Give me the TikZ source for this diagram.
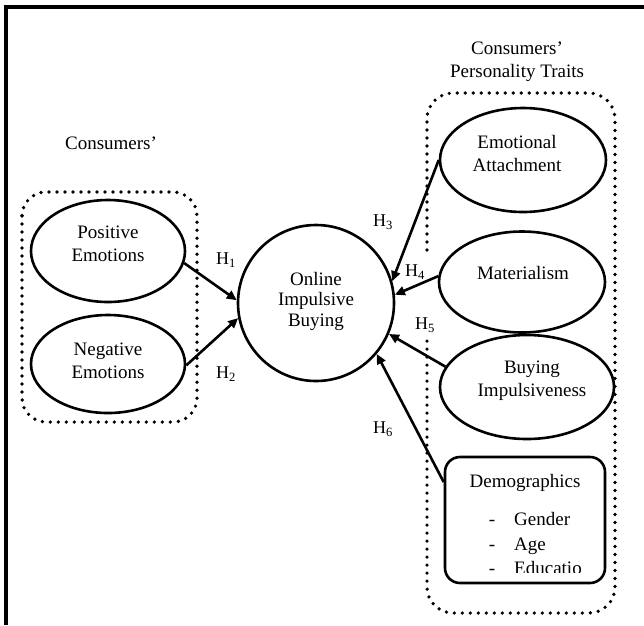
\documentclass[tikz,border=0pt]{standalone}
\usepackage{fontspec}
\setmainfont{Liberation Serif}
\usetikzlibrary{shapes.geometric,arrows.meta}
\begin{document}
\begin{tikzpicture}[x=1pt,y=-1pt,
  ell/.style={draw, line width=2.6pt, ellipse, inner sep=0pt},
  txt/.style={align=center, font=\fontsize{19}{23}\selectfont, inner sep=0pt},
  hyp/.style={font=\fontsize{18}{20}\selectfont, inner sep=1pt},
  dtxt/.style={inner sep=0pt, font=\fontsize{19}{20}\selectfont},
  dotbox/.style={line width=3.7pt, dash pattern=on 0pt off 8pt, line cap=round},
  arr/.style={line width=2.6pt, -{Triangle[length=10pt,width=9pt]}},
  frame/.style={line width=3.8pt}]
\useasboundingbox (0,0) rectangle (644,625);
\draw[frame] (6,625) -- (6,7) -- (644,7);

% left group
\node[txt] (lt) at (111,143) {Consumers’};
\node[ell, minimum width=154pt, minimum height=102pt] (pos) at (108,251) {};
\node[txt] (posT) at (108,244) {Positive\\Emotions};
\node[ell, minimum width=154pt, minimum height=98pt] (neg) at (108,364) {};
\node[txt] (negT) at (108,361) {Negative\\Emotions};
\draw[dotbox, rounded corners=24pt] (22,192) rectangle (197,422);

% centre
\node[circle, draw, line width=2.6pt, minimum size=156pt, inner sep=0pt] (oib) at (316,303) {};
\node[txt, font=\fontsize{19}{20.5}\selectfont] (oibT) at (316,301) {Online\\Impulsive\\Buying};

% right group
\node[txt] (rt) at (517,62) {Consumers’\\Personality Traits};
\draw[dotbox, rounded corners=26pt] (427,250) -- (427,93) -- (615,93) -- (615,613) -- (427,613) -- (427,337);
\node[ell, minimum width=166pt, minimum height=104pt] (ea) at (523,160) {};
\node[txt] (eaT) at (517,153) {Emotional\\Attachment};
\node[ell, minimum width=166pt, minimum height=101pt] (mat) at (522,282) {};
\node[txt] (matT) at (523,273) {Materialism};
\node[ell, minimum width=174pt, minimum height=104pt] (bi) at (527,387) {};
\node[txt] (biT) at (532,381) {Buying\\Impulsiveness};

\node[draw, line width=2.6pt, rounded corners=15pt, minimum width=160pt, minimum height=126pt, inner sep=0pt] (demo) at (525,520) {};
\node[dtxt, anchor=base] (demoT) at (525,487) {Demographics};
\begin{scope}
\clip (446,458) rectangle (604,572);
\node[dtxt, anchor=base] (d1) at (492,525) {-};
\node[dtxt, anchor=base west] (g1) at (514,525) {Gender};
\node[dtxt, anchor=base] (d2) at (492,550) {-};
\node[dtxt, anchor=base west] (g2) at (514,550) {Age};
\node[dtxt, anchor=base] (d3) at (492,574) {-};
\node[dtxt, anchor=base west] (g3) at (514,574) {Educatio};
\end{scope}

% arrows
\draw[arr] (pos.-9) -- (oib.178);
\draw[arr] (neg.-1) -- (oib.-169);
\draw[arr] (ea.180) -- (oib.16);
\draw[arr] (mat.176) -- (oib.6);
\draw[arr] (bi.166) -- (oib.-23);
\draw[arr] (demo.155) -- (oib.-40);

% hypothesis labels
\node[hyp] (h1) at (226,260) {H\textsubscript{1}};
\node[hyp] (h2) at (226,374) {H\textsubscript{2}};
\node[hyp] (h3) at (383,222) {H\textsubscript{3}};
\node[hyp] (h4) at (415,272) {H\textsubscript{4}};
\node[hyp] (h5) at (425,325) {H\textsubscript{5}};
\node[hyp] (h6) at (383,429) {H\textsubscript{6}};
\end{tikzpicture}
\end{document}
